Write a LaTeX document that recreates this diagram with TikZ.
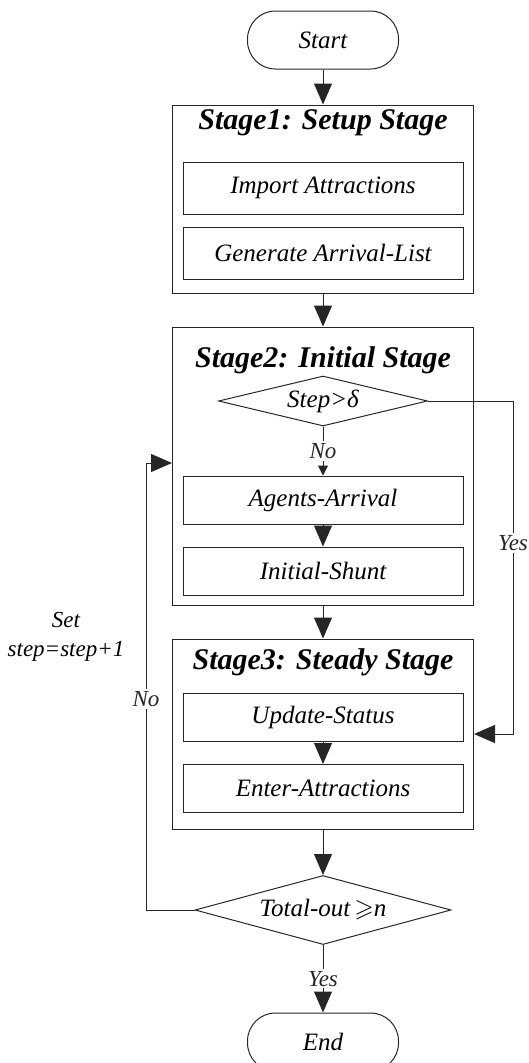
\documentclass[tikz,border=0pt]{standalone}
\usepackage{fontspec}
\setmainfont{Liberation Serif}
\usepackage{amssymb}
\usetikzlibrary{shapes.geometric, arrows.meta, positioning}

\begin{document}
\begin{tikzpicture}[x=1pt,y=-1pt,
  term/.style={rectangle,draw=black!85,line width=1pt,rounded corners=28pt, minimum width=151pt,minimum height=58pt,font=\fontsize{25}{30}\selectfont\itshape},
  stagebox/.style={rectangle,draw=black!85,line width=1pt,minimum width=301pt},
  ttl/.style={inner sep=0pt,font=\fontsize{30}{36}\selectfont\bfseries\itshape},
  proc/.style={rectangle,draw=black!85,line width=1pt, minimum width=280pt,minimum height=48pt,font=\fontsize{25}{30}\selectfont\itshape},
  dec/.style={diamond,draw=black!85,line width=1pt,inner sep=0pt,font=\fontsize{25}{30}\selectfont\itshape},
  lbl/.style={fill=white,inner sep=2pt,font=\fontsize{23}{29}\selectfont\itshape},
  flow/.style={-{Triangle[length=21pt,width=18pt]},line width=1pt,black!85},
  smallflow/.style={-{Triangle[length=10pt,width=10pt]},line width=1pt,black!85}
]
  \useasboundingbox (0,0) rectangle (528,1063);
  \clip (0,0) rectangle (528,1063);

  \node[term](start) at (323,40) {Start};

  \node[stagebox,minimum height=188pt](stage1) at (323,199) {};
  \node[ttl](ttl1)  at (323,123) {Stage1: Setup Stage};
  \node[proc,minimum height=52pt](imp) at (323,188) {Import Attractions};
  \node[proc,minimum height=52pt](gen) at (323,253) {Generate Arrival-List};

  \node[stagebox,minimum height=278pt](stage2) at (323,466) {};
  \node[ttl](ttl2)  at (323,360) {Stage2: Initial Stage};
  \node[dec,minimum width=209pt,minimum height=50pt,aspect=4](chk) at (323,401) {Step>δ};
  \node[proc](arrive) at (323,500) {Agents-Arrival};
  \node[proc](shunt)  at (323,571) {Initial-Shunt};

  \node[stagebox,minimum height=190pt](stage3) at (323,734) {};
  \node[ttl](ttl3)  at (323,662) {Stage3: Steady Stage};
  \node[proc](upd)    at (323,717) {Update-Status};
  \node[proc](enter)  at (323,788.5) {Enter-Attractions};

  \node[dec,minimum width=256pt,minimum height=69pt,aspect=3.7](done) at (323,910) {Total-out\,$\geqslant$n};
  \node[term](stop) at (323,1042) {End};

  \node[align=center,font=\fontsize{23}{29}\selectfont\itshape](inc) at (66,637) {Set\\step=step+1};
  \coordinate (yes) at (513,734);
  \coordinate (back) at (146,463);

  \draw[flow](start) -- (stage1);
  \draw[flow](stage1) -- (stage2);
  \draw[flow](stage2) -- (stage3);
  \draw[flow](stage3) -- (done);
  \draw[flow](arrive) -- (shunt);
  \draw[flow](upd) -- (enter);
  \draw[smallflow](chk) -- node[lbl]{No} (arrive);
  \draw[flow](chk.east) -| node[lbl,pos=0.713]{Yes} (yes) -- (stage3.east);
  \draw[flow](done.west) -| node[lbl,pos=0.736]{No} (back) -- (back -| stage2.west);
  \draw[flow](done) -- node[lbl]{Yes} (stop);
\end{tikzpicture}
\end{document}
